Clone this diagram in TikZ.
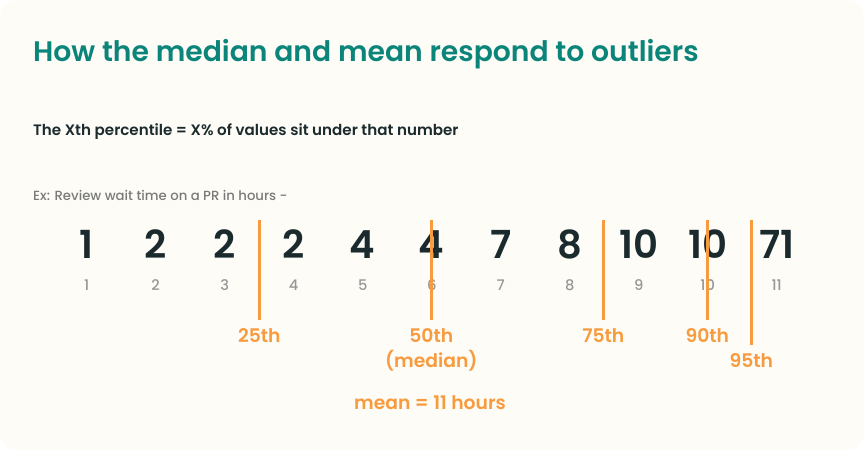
\documentclass[tikz,border=0pt]{standalone}
\usepackage{fontspec}
\setmainfont{Poppins}
\newfontfamily\medfont{Poppins}[UprightFont=*-Medium,BoldFont=*-SemiBold]
\usetikzlibrary{positioning}

\definecolor{pagebg}{HTML}{FDFCF7}
\definecolor{titlecol}{HTML}{0B857A}
\definecolor{ink}{HTML}{1B2A2D}
\definecolor{softgrey}{HTML}{979797}
\definecolor{exgrey}{HTML}{7A7A7A}
\definecolor{cutcol}{HTML}{F89B3E}

\begin{document}
\begin{tikzpicture}[x=0.03cm,y=-0.03cm,every node/.style={inner sep=0pt},
  val/.style={font=\medfont\bfseries\fontsize{33}{33}\selectfont,text=ink,anchor=base},
  idx/.style={font=\medfont\fontsize{12.5}{12.5}\selectfont,text=softgrey,anchor=base},
  pct/.style={font=\medfont\bfseries\fontsize{16}{21.3}\selectfont,text=cutcol,align=center,anchor=north},
  cut/.style={draw=cutcol,line width=2.6pt,shorten >=6.5pt}]

\useasboundingbox (0,0) rectangle (864,450);
\fill[white] (0,0) rectangle (864,450);
\fill[pagebg,rounded corners=15] (0,0) rectangle (864,450);

\node[anchor=base west,text=titlecol,font=\medfont\bfseries\fontsize{24.1}{24.1}\selectfont] (title) at (33,62) {How the median and mean respond to outliers};
\node[anchor=base west,text=ink,font=\medfont\bfseries\fontsize{12.9}{12.9}\selectfont] (rule) at (33,135) {The Xth percentile = X\% of values sit under that number};
\node[anchor=base west,text=exgrey,font=\medfont\fontsize{11.3}{11.3}\selectfont] (ex) at (33,200) {Ex: Review wait time on a PR in hours -};

% values and their rank
\foreach[count=\c] \v in {1,2,2,2,4,4,7,8,10,10,71}{
  \node[val] (v\c) at ({86.7+69*(\c-1)},258) {\v};
  \node[idx] (i\c) at ({86.7+69*(\c-1)},290) {\c};
}

% percentile cuts
\foreach \p/\x/\y/\t in {25/259.3/320/25th,50/431.3/320/{50th\\(median)},75/603.3/320/75th,90/707.3/320/90th,95/751.3/345/95th}{
  \coordinate (t\p) at (\x,220);
  \node[pct] (l\p) at (\x,\y+8) {\t};
  \draw[cut] (t\p) -- (l\p.north);
}

\node[anchor=base,text=cutcol,font=\medfont\bfseries\fontsize{16}{16}\selectfont] (mean) at (430,409) {mean = 11 hours};

\end{tikzpicture}
\end{document}
